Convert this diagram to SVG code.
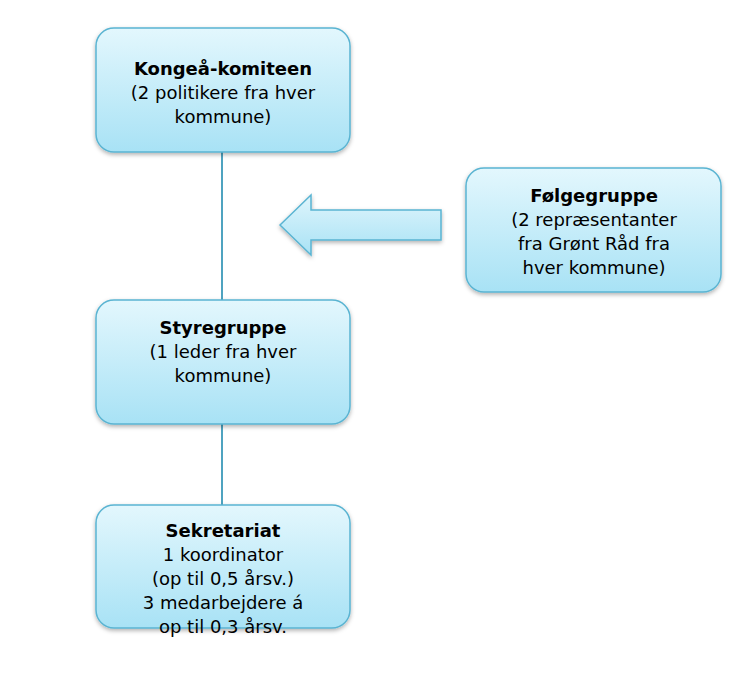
<svg xmlns="http://www.w3.org/2000/svg" width="748" height="685" viewBox="0 0 748 685">
<defs>
<linearGradient id="g" x1="0" y1="0" x2="0" y2="1"><stop offset="0" stop-color="#e3f7fd"/><stop offset="1" stop-color="#a8e2f5"/></linearGradient>
<linearGradient id="ga" x1="0" y1="0" x2="0" y2="1"><stop offset="0" stop-color="#dff5fc"/><stop offset="1" stop-color="#a8e2f5"/></linearGradient>
<filter id="s" x="-10%" y="-10%" width="120%" height="130%"><feDropShadow dx="0" dy="2" stdDeviation="2" flood-color="#000" flood-opacity="0.3"/></filter>
<style>
.box{fill:url(#g);stroke:#5ab4d2;stroke-width:1.5;filter:url(#s)}
text{font-family:"DejaVu Sans",Verdana,sans-serif;font-size:18px;fill:#000;text-anchor:middle}
.b{font-weight:bold}
.c{stroke:#4fa3c0;stroke-width:2;fill:none}
</style>
</defs>
<rect width="748" height="685" fill="#fff"/>
<g id="connectors">
<line class="c" x1="222" y1="152" x2="222" y2="300"/>
<line class="c" x1="222" y1="424" x2="222" y2="505"/>
<path d="M280,225 L311,195 L311,210 L441,210 L441,240 L311,240 L311,255 Z" fill="url(#ga)" stroke="#5ab4d2" stroke-width="1.5" filter="url(#s)"/>
</g>
<g id="kongea">
<rect class="box" x="96" y="28" width="254" height="124" rx="18"/>
<text x="223" y="75" class="b">Kongeå-komiteen</text>
<text x="223" y="99">(2 politikere fra hver</text>
<text x="223" y="123">kommune)</text>
</g>
<g id="folgegruppe">
<rect class="box" x="466" y="168" width="255" height="124" rx="18"/>
<text x="594" y="202" class="b">Følgegruppe</text>
<text x="594" y="226">(2 repræsentanter</text>
<text x="594" y="250">fra Grønt Råd fra</text>
<text x="594" y="274">hver kommune)</text>
</g>
<g id="styregruppe">
<rect class="box" x="96" y="300" width="254" height="124" rx="18"/>
<text x="223" y="334" class="b">Styregruppe</text>
<text x="223" y="358">(1 leder fra hver</text>
<text x="223" y="382">kommune)</text>
</g>
<g id="sekretariat">
<rect class="box" x="96" y="505" width="254" height="123" rx="18"/>
<text x="223" y="537" class="b">Sekretariat</text>
<text x="223" y="561">1 koordinator</text>
<text x="223" y="585">(op til 0,5 årsv.)</text>
<text x="223" y="609">3 medarbejdere á</text>
<text x="223" y="633">op til 0,3 årsv.</text>
</g>
</svg>
